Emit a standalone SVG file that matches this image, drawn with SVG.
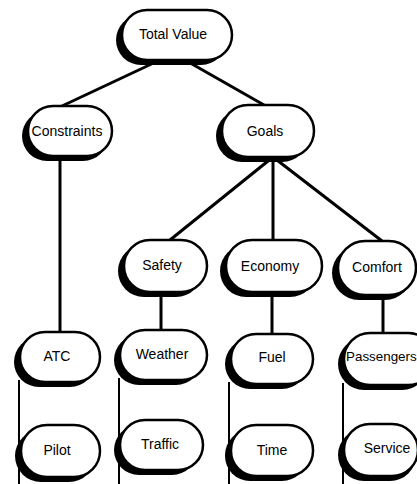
<svg xmlns="http://www.w3.org/2000/svg" width="417" height="484" viewBox="0 0 417 484">
<style>
.sh{fill:#000}
.pill{fill:#fff;stroke:#000;stroke-width:2.5}
.c{stroke:#000;stroke-width:3;fill:none;stroke-linecap:butt}
.e{stroke:#000;stroke-width:2;fill:none}
text{font-family:"Liberation Sans",Arial,sans-serif;font-size:14px;fill:#000;text-anchor:middle;dominant-baseline:central}
</style>
<rect width="417" height="484" fill="#fff"/>
<g id="connectors">
<line class="c" x1="160" y1="60" x2="62" y2="106"/>
<line class="c" x1="185" y1="60" x2="264" y2="105"/>
<line class="c" x1="60" y1="155" x2="60" y2="333"/>
<line class="c" x1="273" y1="157" x2="170" y2="240"/>
<line class="c" x1="273" y1="157" x2="273" y2="241"/>
<line class="c" x1="273" y1="157" x2="382" y2="241"/>
<line class="c" x1="161" y1="292" x2="161" y2="331"/>
<line class="c" x1="272" y1="292" x2="272" y2="335"/>
<line class="c" x1="383" y1="296" x2="383" y2="334"/>
<line class="e" x1="19" y1="380" x2="19" y2="484"/>
<line class="e" x1="119" y1="378" x2="119" y2="484"/>
<line class="e" x1="229" y1="382" x2="229" y2="484"/>
<line class="e" x1="343" y1="383" x2="343" y2="484"/>
</g>
<g id="total-value">
<rect class="sh" x="116" y="15" width="110" height="50" rx="25"/>
<rect class="pill" x="122" y="10" width="110" height="50" rx="25"/>
<text x="173" y="34">Total Value</text>
</g>
<g id="constraints">
<rect class="sh" x="22" y="111" width="86" height="50" rx="25"/>
<rect class="pill" x="28" y="106" width="84" height="50" rx="25"/>
<text x="67" y="131">Constraints</text>
</g>
<g id="goals">
<rect class="sh" x="216" y="110" width="92" height="52" rx="26"/>
<rect class="pill" x="222" y="105" width="92" height="52" rx="26"/>
<text x="265" y="131">Goals</text>
</g>
<g id="safety">
<rect class="sh" x="118" y="245" width="84" height="52" rx="26"/>
<rect class="pill" x="124" y="240" width="83" height="52" rx="26"/>
<text x="162" y="265">Safety</text>
</g>
<g id="economy">
<rect class="sh" x="220" y="245" width="96" height="52" rx="26"/>
<rect class="pill" x="226" y="240" width="96" height="52" rx="26"/>
<text x="270" y="266">Economy</text>
</g>
<g id="comfort">
<rect class="sh" x="332" y="246" width="80" height="54" rx="27"/>
<rect class="pill" x="338" y="241" width="78" height="54" rx="27"/>
<text x="377" y="267">Comfort</text>
</g>
<g id="atc">
<rect class="sh" x="14" y="337" width="81" height="50" rx="25"/>
<rect class="pill" x="20" y="332" width="80" height="50" rx="25"/>
<text x="57" y="356">ATC</text>
</g>
<g id="weather">
<rect class="sh" x="114" y="335" width="87" height="50" rx="25"/>
<rect class="pill" x="120" y="330" width="87" height="50" rx="25"/>
<text x="162" y="354">Weather</text>
</g>
<g id="fuel">
<rect class="sh" x="225" y="339" width="82" height="50" rx="25"/>
<rect class="pill" x="231" y="334" width="82" height="50" rx="25"/>
<text x="272" y="357">Fuel</text>
</g>
<g id="passengers">
<rect class="sh" x="338" y="338" width="90" height="52" rx="26"/>
<rect class="pill" x="344" y="333" width="90" height="52" rx="26"/>
<text x="346" y="356" style="text-anchor:start;font-size:13.4px">Passengers</text>
</g>
<g id="pilot">
<rect class="sh" x="15" y="430" width="80" height="52" rx="26"/>
<rect class="pill" x="21" y="425" width="79" height="52" rx="26"/>
<text x="57" y="450">Pilot</text>
</g>
<g id="traffic">
<rect class="sh" x="114" y="425" width="83" height="50" rx="25"/>
<rect class="pill" x="120" y="420" width="83" height="50" rx="25"/>
<text x="160" y="444">Traffic</text>
</g>
<g id="time">
<rect class="sh" x="225" y="430" width="82" height="51" rx="25"/>
<rect class="pill" x="231" y="425" width="82" height="51" rx="25"/>
<text x="272" y="450">Time</text>
</g>
<g id="service">
<rect class="sh" x="338" y="429" width="78" height="52" rx="26"/>
<rect class="pill" x="344" y="424" width="74" height="52" rx="26"/>
<text x="387" y="448">Service</text>
</g>
</svg>
